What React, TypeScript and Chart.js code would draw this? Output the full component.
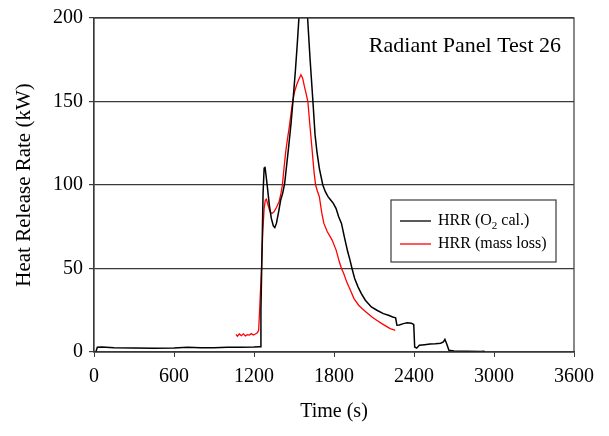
import React, { useEffect, useRef } from 'react';
import { Chart, registerables } from 'chart.js';

Chart.register(...registerables);

// ---- Data ----
const o2Time = [
  0, 15, 25, 60, 150, 300, 450, 600, 700, 800, 900, 1000, 1100, 1200, 1245,
  1252, 1260, 1268, 1276, 1282, 1290, 1300, 1315, 1330, 1345, 1356, 1368, 1385,
  1400, 1415, 1430, 1445, 1460, 1478, 1492, 1510, 1525, 1537, 1555, 1571, 1585,
  1602, 1620, 1642, 1658, 1672, 1690, 1716, 1735, 1755, 1775, 1795, 1815, 1835,
  1856, 1880, 1903, 1920, 1935, 1955, 1980, 2005, 2035, 2080, 2122, 2170, 2209,
  2240, 2262, 2272, 2290, 2320, 2350, 2380, 2398, 2405, 2420, 2440, 2480, 2520,
  2560, 2600, 2620, 2632, 2645, 2662, 2700, 2800, 2900, 2930,
];
const o2HRR = [
  0, 0.3, 2.8, 3.0, 2.6, 2.4, 2.3, 2.4, 2.8, 2.5, 2.6, 2.9, 2.8, 3.0, 3.2,
  25, 60, 95, 110, 111, 106, 99, 88, 80, 75.5, 74.5, 77, 84,
  91, 95, 101, 112, 123, 137, 150, 168, 185, 200, 218, 232, 218,
  200, 176, 150, 130, 120, 110, 100, 96, 93, 91, 89, 86, 81,
  77, 68, 60, 55, 50, 44, 39, 35, 31, 27, 25, 23, 22,
  21, 20.5, 16, 16.2, 17, 17.5, 17.2, 16.5, 3, 2.3, 4, 4.4, 4.8,
  5, 5.3, 6, 7.5, 5, 1, 0.6, 0.4, 0.3, 0.5,
];

const massTime = [
  1065, 1075, 1090, 1105, 1120, 1135, 1150, 1165, 1180, 1195, 1210, 1225, 1235,
  1245, 1256, 1266, 1276, 1285, 1293, 1305, 1320, 1335, 1350, 1368, 1388, 1400,
  1413, 1425, 1438, 1450, 1465, 1478, 1490, 1505, 1520, 1535, 1552, 1565, 1578,
  1590, 1604, 1620, 1637, 1650, 1662, 1677, 1690, 1709, 1724, 1750, 1786, 1816,
  1840, 1856, 1873, 1895, 1923, 1950, 1985, 2010, 2040, 2085, 2120, 2159, 2190,
  2221, 2240, 2259,
];
const massHRR = [
  10.5, 9.5, 10.8, 9.8, 10.9, 9.6, 10.4, 10.1, 11, 10.2, 10.8, 11.5, 13,
  30, 50, 72, 86, 91, 91.5, 88, 84, 83, 84, 86.5, 90, 94,
  100, 110, 120, 127, 135, 143, 150, 156, 160, 163, 166, 164, 159,
  155, 150, 135, 120, 108, 100, 96, 93, 83, 77, 72, 67, 61,
  54, 50, 47, 42, 37, 32, 28, 26, 24, 21, 19, 17, 15.5,
  14, 13.5, 13,
];

const xMin = 0;
const xMax = 3600;
const xStep = 600;
const yMin = 0;
const yMax = 200;
const yStep = 50;

const seriesLabels = ['HRR (O2 cal.)', 'HRR (mass loss)'];
const seriesColors = ['#000000', '#ff0000'];
const xTitle = 'Time (s)';
const yTitle = 'Heat Release Rate (kW)';
const annotation = 'Radiant Panel Test 26';

const FONT = '"Liberation Serif", "Times New Roman", serif';
const AXIS_COLOR = '#3a3a3a';

const toPoints = (xs: number[], ys: number[]) => xs.map((x, i) => ({ x, y: ys[i] }));

const decorPlugin = {
  id: 'decor',
  afterDatasetsDraw(chart: any) {
    const { ctx, chartArea: a } = chart;
    ctx.save();
    // frame
    ctx.strokeStyle = AXIS_COLOR;
    ctx.lineWidth = 1.2;
    ctx.strokeRect(a.left, a.top, a.right - a.left, a.bottom - a.top);

    // annotation text
    ctx.fillStyle = '#000';
    ctx.font = `22px ${FONT}`;
    ctx.textAlign = 'right';
    ctx.textBaseline = 'middle';
    ctx.fillText(annotation, a.right - 13, a.top + 28);

    // legend box
    const bx = a.right - 183;
    const by = a.top + 182;
    const bw = 165;
    const bh = 62;
    ctx.fillStyle = '#fff';
    ctx.fillRect(bx, by, bw, bh);
    ctx.strokeStyle = AXIS_COLOR;
    ctx.lineWidth = 1.2;
    ctx.strokeRect(bx, by, bw, bh);

    const rows = [by + 21, by + 44];
    chart.data.datasets.forEach((ds: any, i: number) => {
      const y = rows[i];
      ctx.strokeStyle = ds.borderColor;
      ctx.lineWidth = 1.3;
      ctx.beginPath();
      ctx.moveTo(bx + 9, y);
      ctx.lineTo(bx + 40, y);
      ctx.stroke();
      ctx.fillStyle = '#000';
      ctx.textAlign = 'left';
      ctx.textBaseline = 'middle';
      const label: string = ds.label;
      const tx = bx + 47;
      const subIdx = label.indexOf('O2');
      if (subIdx >= 0) {
        const pre = label.slice(0, subIdx + 1);
        const post = label.slice(subIdx + 2);
        ctx.font = `16px ${FONT}`;
        ctx.fillText(pre, tx, y);
        const w1 = ctx.measureText(pre).width;
        ctx.font = `11px ${FONT}`;
        ctx.fillText('2', tx + w1, y + 5);
        const w2 = ctx.measureText('2').width;
        ctx.font = `16px ${FONT}`;
        ctx.fillText(post, tx + w1 + w2, y);
      } else {
        ctx.font = `16px ${FONT}`;
        ctx.fillText(label, tx, y);
      }
    });
    ctx.restore();
  },
};

export default function App() {
  const canvasRef = useRef<HTMLCanvasElement | null>(null);

  useEffect(() => {
    document.body.style.margin = '0';
    const canvas = canvasRef.current;
    if (!canvas) return;
    const chart = new Chart(canvas, {
      type: 'line',
      data: {
        datasets: [
          {
            label: seriesLabels[0],
            data: toPoints(o2Time, o2HRR),
            borderColor: seriesColors[0],
            backgroundColor: seriesColors[0],
            borderWidth: 1.5,
            pointRadius: 0,
            tension: 0,
          },
          {
            label: seriesLabels[1],
            data: toPoints(massTime, massHRR),
            borderColor: seriesColors[1],
            backgroundColor: seriesColors[1],
            borderWidth: 1.3,
            pointRadius: 0,
            tension: 0,
          },
        ],
      },
      options: {
        responsive: false,
        animation: false,
        layout: { padding: { top: 16, right: 35, left: 0, bottom: 0 } },
        plugins: {
          legend: { display: false },
          tooltip: { enabled: false },
          title: { display: false },
        },
        scales: {
          x: {
            type: 'linear',
            min: xMin,
            max: xMax,
            afterFit: (s: any) => { s.height = 84; },
            ticks: {
              stepSize: xStep,
              color: '#000',
              font: { family: FONT, size: 20 },
              padding: 8,
              maxRotation: 0,
              callback: (v: any) => String(v),
            },
            grid: {
              drawOnChartArea: false,
              drawTicks: true,
              tickLength: 5,
              color: AXIS_COLOR,
            },
            border: { color: AXIS_COLOR, width: 1.2 },
            title: {
              display: true,
              text: xTitle,
              color: '#000',
              font: { family: FONT, size: 20 },
              padding: { top: 0, bottom: 12 },
            },
          },
          y: {
            type: 'linear',
            min: yMin,
            max: yMax,
            afterFit: (s: any) => { s.width = 94; },
            ticks: {
              stepSize: yStep,
              color: '#000',
              font: { family: FONT, size: 20 },
              padding: 6,
              callback: (v: any) => String(v),
            },
            grid: {
              color: AXIS_COLOR,
              lineWidth: 1.2,
              tickLength: 5,
            },
            border: { color: AXIS_COLOR, width: 1.2 },
            title: {
              display: true,
              text: yTitle,
              color: '#000',
              font: { family: FONT, size: 21 },
              padding: { top: 12, bottom: 0 },
            },
          },
        },
      },
      plugins: [decorPlugin],
    });
    return () => chart.destroy();
  }, []);

  return (
    <div style={{ position: 'absolute', left: 0, top: 0, width: 609, height: 436 }}>
      <canvas ref={canvasRef} width={609} height={436} />
    </div>
  );
}
